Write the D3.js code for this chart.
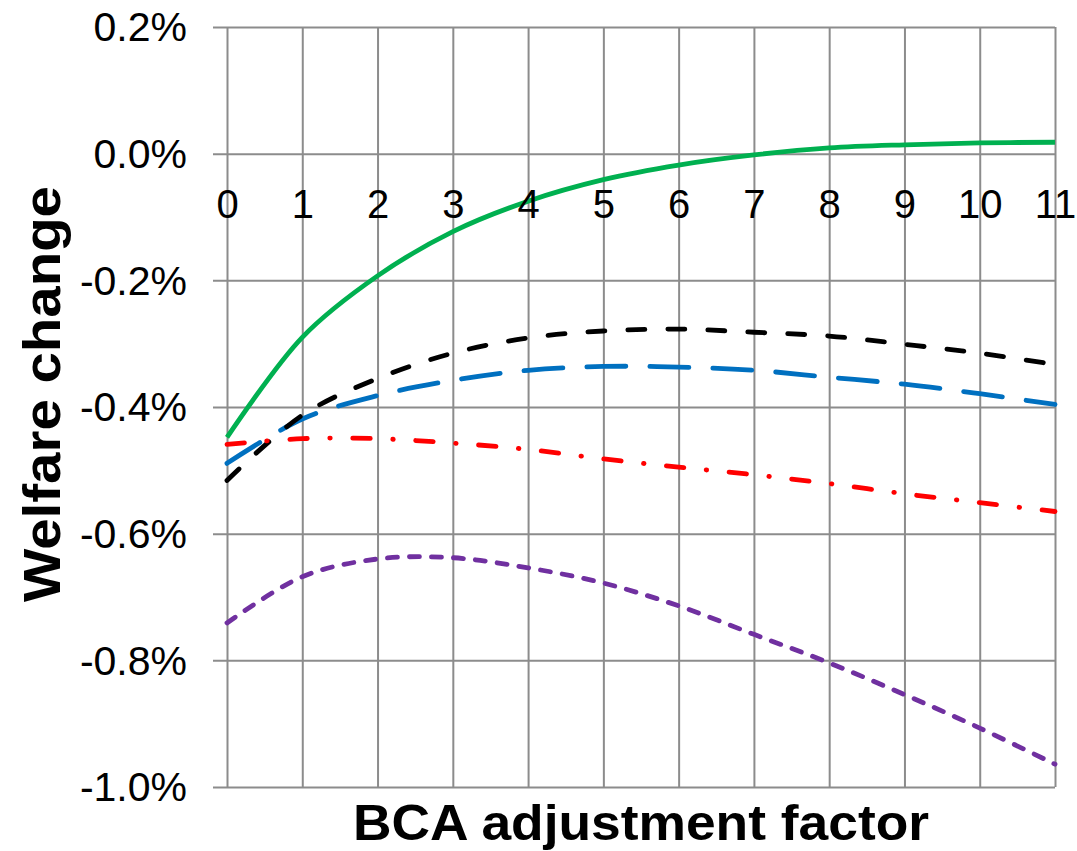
<!DOCTYPE html>
<html>
<head>
<meta charset="utf-8">
<script src="https://cdn.jsdelivr.net/npm/d3@7"></script>
<style>
  html, body { margin: 0; padding: 0; background: #fff; }
  svg text { font-family: "Liberation Sans", Arial, sans-serif; fill: #000; }
</style>
</head>
<body>
<svg id="chart"></svg>
<script>
// BCA adjustment factor
const factors = [0, 1, 2, 3, 4, 5, 6, 7, 8, 9, 10, 11];

// welfare change, in percent
const greenSeries  = [-0.448, -0.290, -0.193, -0.123, -0.075, -0.041, -0.018, -0.002, 0.009, 0.014, 0.017, 0.018];
const blackSeries  = [-0.516, -0.413, -0.355, -0.315, -0.291, -0.280, -0.277, -0.282, -0.288, -0.301, -0.315, -0.333];
const blueSeries   = [-0.489, -0.419, -0.382, -0.358, -0.342, -0.336, -0.337, -0.342, -0.353, -0.364, -0.379, -0.396];
const redSeries    = [-0.459, -0.450, -0.450, -0.457, -0.467, -0.482, -0.495, -0.507, -0.521, -0.537, -0.551, -0.565];
const purpleSeries = [-0.741, -0.668, -0.640, -0.638, -0.654, -0.678, -0.714, -0.759, -0.804, -0.854, -0.907, -0.964];

const yTicks = [0.2, 0.0, -0.2, -0.4, -0.6, -0.8, -1.0];
const yTickLabels = ["0.2%", "0.0%", "-0.2%", "-0.4%", "-0.6%", "-0.8%", "-1.0%"];
const xTickLabels = ["0", "1", "2", "3", "4", "5", "6", "7", "8", "9", "10", "11"];

const width = 1077;
const height = 851;
const margin = { top: 27, right: 22, bottom: 64, left: 227 };
const innerWidth = width - margin.left - margin.right;
const innerHeight = height - margin.top - margin.bottom;

const svg = d3.select('#chart')
  .attr('width', width)
  .attr('height', height);

const g = svg.append('g')
  .attr('transform', `translate(${margin.left},${margin.top})`);

const xScale = d3.scaleLinear()
  .domain([0, 11])
  .range([0, innerWidth]);

const yScale = d3.scaleLinear()
  .domain([-1.0, 0.2])
  .range([innerHeight, 0]);

const gridColor = '#8c8c8c';

// vertical gridlines
g.append('g')
  .attr('transform', `translate(0,${innerHeight})`)
  .call(d3.axisTop(xScale).tickValues(factors).tickSize(innerHeight).tickFormat(''))
  .call(a => a.select('.domain').remove())
  .call(a => a.selectAll('line').attr('stroke', gridColor).attr('stroke-width', 2));

// horizontal gridlines + y labels
const yAxis = g.append('g')
  .attr('transform', `translate(${innerWidth},0)`)
  .call(d3.axisLeft(yScale)
    .tickValues(yTicks)
    .tickSize(innerWidth + 14)
    .tickPadding(26)
    .tickFormat((d, i) => yTickLabels[i]));
yAxis.select('.domain').remove();
yAxis.selectAll('line').attr('stroke', gridColor).attr('stroke-width', 2);
yAxis.selectAll('text')
  .style('font-size', '41px')
  .attr('dy', '0.34em');

const line = d3.line()
  .x((d, i) => xScale(factors[i]))
  .y(d => yScale(d))
  .curve(d3.curveCatmullRom.alpha(0.5));

const series = [
  { values: purpleSeries, color: '#7030a0', dash: '10 12' },
  { values: greenSeries,  color: '#00b050', dash: null },
  { values: blueSeries,   color: '#0070c0', dash: '39 24' },
  { values: blackSeries,  color: '#000000', dash: '17 23' },
  { values: redSeries,    color: '#ff0000', dash: '17.5 22.5 0.5 22.5' }
];

series.forEach(s => {
  g.append('path')
    .datum(s.values)
    .attr('fill', 'none')
    .attr('stroke', s.color)
    .attr('stroke-width', 4.8)
    .attr('stroke-linecap', s.dash ? 'round' : 'butt')
    .attr('stroke-dasharray', s.dash)
    .attr('d', line);
});

// x tick labels sit on the zero line
const xAxis = g.append('g')
  .attr('transform', `translate(0,${yScale(0)})`)
  .call(d3.axisBottom(xScale)
    .tickValues(factors)
    .tickSize(0)
    .tickPadding(36)
    .tickFormat((d, i) => xTickLabels[i]));
xAxis.select('.domain').remove();
xAxis.selectAll('text').style('font-size', '40px');

// axis titles
svg.append('text')
  .attr('x', 641)
  .attr('y', 840)
  .attr('text-anchor', 'middle')
  .attr('textLength', 576)
  .attr('lengthAdjust', 'spacingAndGlyphs')
  .style('font-size', '50px')
  .style('font-weight', 'bold')
  .text('BCA adjustment factor');

svg.append('text')
  .attr('transform', 'translate(60,394) rotate(-90)')
  .attr('text-anchor', 'middle')
  .attr('textLength', 416)
  .attr('lengthAdjust', 'spacingAndGlyphs')
  .style('font-size', '52px')
  .style('font-weight', 'bold')
  .text('Welfare change');
</script>
</body>
</html>
